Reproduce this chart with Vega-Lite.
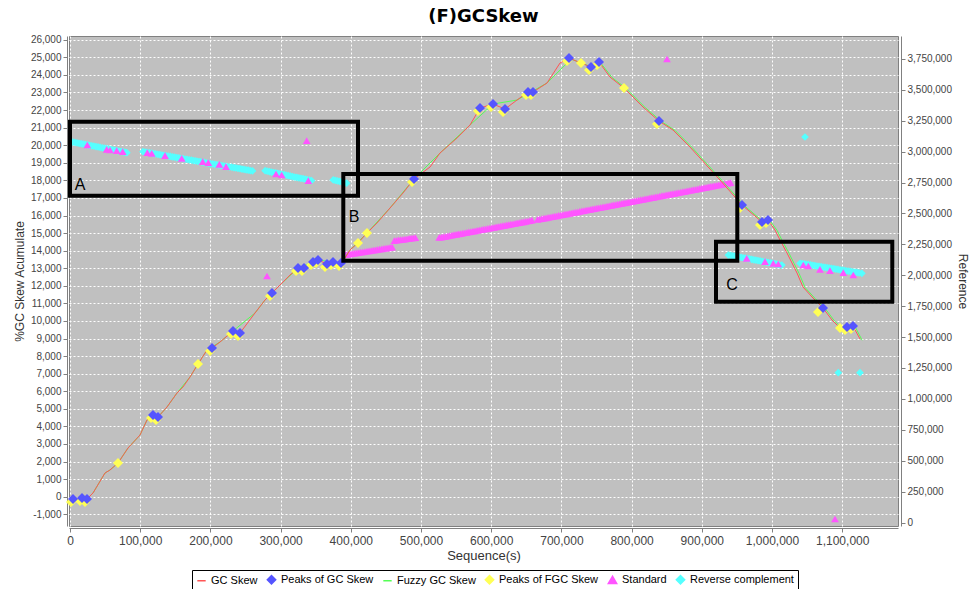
{
"$schema": "https://vega.github.io/schema/vega-lite/v6.json",
"width": 829, "height": 490,
"autosize": {"type": "none"},
"padding": {"left": 69, "top": 36, "right": 75, "bottom": 63},
"background": "white",
"title": {"text": "(F)GCSkew", "font": "DejaVu Sans", "fontSize": 18, "fontWeight": "bold", "color": "black", "offset": 9, "anchor": "middle"},
"datasets": {
"gcskew": [
{"series":"GC Skew","pos":0,"val":-60},{"series":"GC Skew","pos":4274,"val":-131},{"series":"GC Skew","pos":17094,"val":-74},{"series":"GC Skew","pos":24217,"val":-131},{"series":"GC Skew","pos":32764,"val":211},{"series":"GC Skew","pos":49858,"val":1349},{"series":"GC Skew","pos":56980,"val":1519},{"series":"GC Skew","pos":68376,"val":1917},{"series":"GC Skew","pos":82621,"val":2771},{"series":"GC Skew","pos":99715,"val":3510},{"series":"GC Skew","pos":109687,"val":4364},{"series":"GC Skew","pos":118234,"val":4648},{"series":"GC Skew","pos":125356,"val":4535},{"series":"GC Skew","pos":138177,"val":5104},{"series":"GC Skew","pos":152422,"val":5900},{"series":"GC Skew","pos":160969,"val":6242},{"series":"GC Skew","pos":170940,"val":6811},{"series":"GC Skew","pos":182336,"val":7550},{"series":"GC Skew","pos":195157,"val":8347},{"series":"GC Skew","pos":202279,"val":8461},{"series":"GC Skew","pos":213675,"val":8802},{"series":"GC Skew","pos":232194,"val":9428},{"series":"GC Skew","pos":242165,"val":9314},{"series":"GC Skew","pos":263533,"val":10452},{"series":"GC Skew","pos":277778,"val":11191},{"series":"GC Skew","pos":287749,"val":11590},{"series":"GC Skew","pos":299145,"val":12045},{"series":"GC Skew","pos":313390,"val":12614},{"series":"GC Skew","pos":324786,"val":13012},{"series":"GC Skew","pos":333333,"val":13012},{"series":"GC Skew","pos":346154,"val":13354},{"series":"GC Skew","pos":353276,"val":13468},{"series":"GC Skew","pos":366097,"val":13240},{"series":"GC Skew","pos":374644,"val":13354},{"series":"GC Skew","pos":386040,"val":13297},{"series":"GC Skew","pos":391738,"val":13581},{"series":"GC Skew","pos":398860,"val":14036},{"series":"GC Skew","pos":410256,"val":14434},{"series":"GC Skew","pos":423077,"val":15003},{"series":"GC Skew","pos":437322,"val":15572},{"series":"GC Skew","pos":455840,"val":16426},{"series":"GC Skew","pos":474359,"val":17279},{"series":"GC Skew","pos":490028,"val":18078},{"series":"GC Skew","pos":512820,"val":18758},{"series":"GC Skew","pos":527065,"val":19555},{"series":"GC Skew","pos":551282,"val":20408},{"series":"GC Skew","pos":569800,"val":21148},{"series":"GC Skew","pos":584045,"val":22115},{"series":"GC Skew","pos":602564,"val":22343},{"series":"GC Skew","pos":619658,"val":22058},{"series":"GC Skew","pos":636752,"val":22570},{"series":"GC Skew","pos":652421,"val":23026},{"series":"GC Skew","pos":659544,"val":23026},{"series":"GC Skew","pos":679487,"val":23538},{"series":"GC Skew","pos":698005,"val":24676},{"series":"GC Skew","pos":710826,"val":24960},{"series":"GC Skew","pos":727920,"val":24676},{"series":"GC Skew","pos":742165,"val":24448},{"series":"GC Skew","pos":753561,"val":24733},{"series":"GC Skew","pos":769230,"val":23879},{"series":"GC Skew","pos":789173,"val":23253},{"series":"GC Skew","pos":816239,"val":22172},{"series":"GC Skew","pos":839031,"val":21376},{"series":"GC Skew","pos":858974,"val":20864},{"series":"GC Skew","pos":883190,"val":19896},{"series":"GC Skew","pos":897435,"val":19270},{"series":"GC Skew","pos":925925,"val":18018},{"series":"GC Skew","pos":957264,"val":16598},{"series":"GC Skew","pos":985754,"val":15630},{"series":"GC Skew","pos":994301,"val":15744},{"series":"GC Skew","pos":1004273,"val":15175},{"series":"GC Skew","pos":1011395,"val":14606},{"series":"GC Skew","pos":1021367,"val":13866},{"series":"GC Skew","pos":1028489,"val":13297},{"series":"GC Skew","pos":1035612,"val":12728},{"series":"GC Skew","pos":1044159,"val":11931},{"series":"GC Skew","pos":1058404,"val":11305},{"series":"GC Skew","pos":1072649,"val":10736},{"series":"GC Skew","pos":1085469,"val":10054},{"series":"GC Skew","pos":1096865,"val":9599},{"series":"GC Skew","pos":1106837,"val":9656},{"series":"GC Skew","pos":1115384,"val":9713},{"series":"GC Skew","pos":1125355,"val":8973}
],
"fuzzy": [
{"series":"Fuzzy GC Skew","pos":0,"val":-60},{"series":"Fuzzy GC Skew","pos":4274,"val":-131},{"series":"Fuzzy GC Skew","pos":17094,"val":-74},{"series":"Fuzzy GC Skew","pos":24217,"val":-131},{"series":"Fuzzy GC Skew","pos":32764,"val":211},{"series":"Fuzzy GC Skew","pos":49858,"val":1349},{"series":"Fuzzy GC Skew","pos":56980,"val":1519},{"series":"Fuzzy GC Skew","pos":68376,"val":1917},{"series":"Fuzzy GC Skew","pos":82621,"val":2771},{"series":"Fuzzy GC Skew","pos":99715,"val":3510},{"series":"Fuzzy GC Skew","pos":109687,"val":4364},{"series":"Fuzzy GC Skew","pos":118234,"val":4648},{"series":"Fuzzy GC Skew","pos":125356,"val":4535},{"series":"Fuzzy GC Skew","pos":138177,"val":5104},{"series":"Fuzzy GC Skew","pos":152422,"val":5900},{"series":"Fuzzy GC Skew","pos":170940,"val":6811},{"series":"Fuzzy GC Skew","pos":182336,"val":7550},{"series":"Fuzzy GC Skew","pos":195157,"val":8347},{"series":"Fuzzy GC Skew","pos":213675,"val":8802},{"series":"Fuzzy GC Skew","pos":232194,"val":9428},{"series":"Fuzzy GC Skew","pos":263533,"val":10452},{"series":"Fuzzy GC Skew","pos":277778,"val":11191},{"series":"Fuzzy GC Skew","pos":299145,"val":12045},{"series":"Fuzzy GC Skew","pos":324786,"val":13012},{"series":"Fuzzy GC Skew","pos":353276,"val":13468},{"series":"Fuzzy GC Skew","pos":386040,"val":13297},{"series":"Fuzzy GC Skew","pos":398860,"val":14036},{"series":"Fuzzy GC Skew","pos":423077,"val":15003},{"series":"Fuzzy GC Skew","pos":455840,"val":16426},{"series":"Fuzzy GC Skew","pos":490028,"val":18078},{"series":"Fuzzy GC Skew","pos":527065,"val":19555},{"series":"Fuzzy GC Skew","pos":569800,"val":21148},{"series":"Fuzzy GC Skew","pos":602564,"val":22343},{"series":"Fuzzy GC Skew","pos":636752,"val":22570},{"series":"Fuzzy GC Skew","pos":679487,"val":23538},{"series":"Fuzzy GC Skew","pos":713826,"val":24900},{"series":"Fuzzy GC Skew","pos":730920,"val":24640},{"series":"Fuzzy GC Skew","pos":745165,"val":24420},{"series":"Fuzzy GC Skew","pos":756561,"val":24650},{"series":"Fuzzy GC Skew","pos":772230,"val":23850},{"series":"Fuzzy GC Skew","pos":792173,"val":23230},{"series":"Fuzzy GC Skew","pos":819239,"val":22150},{"series":"Fuzzy GC Skew","pos":842031,"val":21360},{"series":"Fuzzy GC Skew","pos":861974,"val":20840},{"series":"Fuzzy GC Skew","pos":886190,"val":19870},{"series":"Fuzzy GC Skew","pos":900435,"val":19240},{"series":"Fuzzy GC Skew","pos":928925,"val":17990},{"series":"Fuzzy GC Skew","pos":960264,"val":16570},{"series":"Fuzzy GC Skew","pos":988754,"val":15610},{"series":"Fuzzy GC Skew","pos":997301,"val":15700},{"series":"Fuzzy GC Skew","pos":1007273,"val":15150},{"series":"Fuzzy GC Skew","pos":1014395,"val":14580},{"series":"Fuzzy GC Skew","pos":1024367,"val":13840},{"series":"Fuzzy GC Skew","pos":1031489,"val":13270},{"series":"Fuzzy GC Skew","pos":1038612,"val":12700},{"series":"Fuzzy GC Skew","pos":1047159,"val":11900},{"series":"Fuzzy GC Skew","pos":1061404,"val":11280},{"series":"Fuzzy GC Skew","pos":1075649,"val":10710},{"series":"Fuzzy GC Skew","pos":1088469,"val":10030},{"series":"Fuzzy GC Skew","pos":1099865,"val":9580},{"series":"Fuzzy GC Skew","pos":1109837,"val":9620},{"series":"Fuzzy GC Skew","pos":1118384,"val":9680},{"series":"Fuzzy GC Skew","pos":1128355,"val":8900}
],
"peaks": [
{"series":"Peaks of FGC Skew","pos":68376,"val":1917},{"series":"Peaks of FGC Skew","pos":182336,"val":7550},{"series":"Peaks of FGC Skew","pos":410256,"val":14434},{"series":"Peaks of FGC Skew","pos":423077,"val":15003},{"series":"Peaks of FGC Skew","pos":727920,"val":24676},{"series":"Peaks of FGC Skew","pos":789173,"val":23253},{"series":"Peaks of FGC Skew","pos":1065526,"val":10509},{"series":"Peaks of FGC Skew","pos":1096865,"val":9599},
{"series":"Peaks of FGC Skew","pos":1425,"val":-302},{"series":"Peaks of FGC Skew","pos":14245,"val":-245},{"series":"Peaks of FGC Skew","pos":21368,"val":-302},{"series":"Peaks of FGC Skew","pos":115385,"val":4477},{"series":"Peaks of FGC Skew","pos":122507,"val":4364},{"series":"Peaks of FGC Skew","pos":199430,"val":8290},{"series":"Peaks of FGC Skew","pos":229345,"val":9257},{"series":"Peaks of FGC Skew","pos":239316,"val":9143},{"series":"Peaks of FGC Skew","pos":284900,"val":11419},{"series":"Peaks of FGC Skew","pos":321937,"val":12841},{"series":"Peaks of FGC Skew","pos":330484,"val":12841},{"series":"Peaks of FGC Skew","pos":343305,"val":13183},{"series":"Peaks of FGC Skew","pos":350427,"val":13297},{"series":"Peaks of FGC Skew","pos":363248,"val":13069},{"series":"Peaks of FGC Skew","pos":371795,"val":13183},{"series":"Peaks of FGC Skew","pos":383191,"val":13126},{"series":"Peaks of FGC Skew","pos":487179,"val":17907},{"series":"Peaks of FGC Skew","pos":581196,"val":21944},{"series":"Peaks of FGC Skew","pos":599715,"val":22172},{"series":"Peaks of FGC Skew","pos":616809,"val":21887},{"series":"Peaks of FGC Skew","pos":649572,"val":22855},{"series":"Peaks of FGC Skew","pos":656695,"val":22855},{"series":"Peaks of FGC Skew","pos":707977,"val":24789},{"series":"Peaks of FGC Skew","pos":739316,"val":24277},{"series":"Peaks of FGC Skew","pos":750712,"val":24562},{"series":"Peaks of FGC Skew","pos":836182,"val":21205},{"series":"Peaks of FGC Skew","pos":954415,"val":16427},{"series":"Peaks of FGC Skew","pos":982905,"val":15459},{"series":"Peaks of FGC Skew","pos":991452,"val":15573},{"series":"Peaks of FGC Skew","pos":1104000,"val":9485},{"series":"Peaks of FGC Skew","pos":1112535,"val":9542},
{"series":"Peaks of GC Skew","pos":4274,"val":-131},{"series":"Peaks of GC Skew","pos":17094,"val":-74},{"series":"Peaks of GC Skew","pos":24217,"val":-131},{"series":"Peaks of GC Skew","pos":118234,"val":4648},{"series":"Peaks of GC Skew","pos":125356,"val":4535},{"series":"Peaks of GC Skew","pos":202279,"val":8461},{"series":"Peaks of GC Skew","pos":232194,"val":9428},{"series":"Peaks of GC Skew","pos":242165,"val":9314},{"series":"Peaks of GC Skew","pos":287749,"val":11590},{"series":"Peaks of GC Skew","pos":324786,"val":13012},{"series":"Peaks of GC Skew","pos":333333,"val":13012},{"series":"Peaks of GC Skew","pos":346154,"val":13354},{"series":"Peaks of GC Skew","pos":353276,"val":13468},{"series":"Peaks of GC Skew","pos":366097,"val":13240},{"series":"Peaks of GC Skew","pos":374644,"val":13354},{"series":"Peaks of GC Skew","pos":386040,"val":13297},{"series":"Peaks of GC Skew","pos":490028,"val":18078},{"series":"Peaks of GC Skew","pos":584045,"val":22115},{"series":"Peaks of GC Skew","pos":602564,"val":22343},{"series":"Peaks of GC Skew","pos":619658,"val":22058},{"series":"Peaks of GC Skew","pos":652421,"val":23026},{"series":"Peaks of GC Skew","pos":659544,"val":23026},{"series":"Peaks of GC Skew","pos":710826,"val":24960},{"series":"Peaks of GC Skew","pos":742165,"val":24448},{"series":"Peaks of GC Skew","pos":753561,"val":24733},{"series":"Peaks of GC Skew","pos":839031,"val":21376},{"series":"Peaks of GC Skew","pos":957264,"val":16598},{"series":"Peaks of GC Skew","pos":985754,"val":15630},{"series":"Peaks of GC Skew","pos":994301,"val":15744},{"series":"Peaks of GC Skew","pos":1072649,"val":10736},{"series":"Peaks of GC Skew","pos":1106837,"val":9656},{"series":"Peaks of GC Skew","pos":1115384,"val":9713}
],
"ref": [
{"series":"Reverse complement","pos":4000,"val":3078000},{"series":"Reverse complement","pos":7000,"val":3074500},{"series":"Reverse complement","pos":10000,"val":3071000},{"series":"Reverse complement","pos":13000,"val":3067700},{"series":"Reverse complement","pos":16000,"val":3064500},{"series":"Reverse complement","pos":19000,"val":3061200},{"series":"Reverse complement","pos":22000,"val":3058000},{"series":"Reverse complement","pos":25000,"val":3054500},{"series":"Reverse complement","pos":28000,"val":3051000},{"series":"Reverse complement","pos":31000,"val":3047700},{"series":"Reverse complement","pos":34000,"val":3044500},{"series":"Reverse complement","pos":37000,"val":3041200},{"series":"Reverse complement","pos":40000,"val":3038000},{"series":"Reverse complement","pos":43000,"val":3034500},{"series":"Reverse complement","pos":46000,"val":3031000},{"series":"Reverse complement","pos":49000,"val":3027700},{"series":"Reverse complement","pos":52000,"val":3024500},{"series":"Reverse complement","pos":55000,"val":3021200},{"series":"Reverse complement","pos":58000,"val":3018000},{"series":"Reverse complement","pos":61000,"val":3014500},{"series":"Reverse complement","pos":64000,"val":3011000},{"series":"Reverse complement","pos":67000,"val":3007500},{"series":"Reverse complement","pos":70000,"val":3004000},{"series":"Reverse complement","pos":73000,"val":3000700},{"series":"Reverse complement","pos":76000,"val":2997500},{"series":"Reverse complement","pos":79000,"val":2994200},{"series":"Reverse complement","pos":81000,"val":2992000},
{"series":"Reverse complement","pos":104000,"val":3000000},{"series":"Reverse complement","pos":107000,"val":2997000},{"series":"Reverse complement","pos":110000,"val":2994000},{"series":"Reverse complement","pos":113000,"val":2991000},{"series":"Reverse complement","pos":116000,"val":2988000},{"series":"Reverse complement","pos":119000,"val":2985000},{"series":"Reverse complement","pos":122000,"val":2982000},{"series":"Reverse complement","pos":125000,"val":2979000},{"series":"Reverse complement","pos":128000,"val":2976000},{"series":"Reverse complement","pos":131000,"val":2973000},{"series":"Reverse complement","pos":134000,"val":2970000},{"series":"Reverse complement","pos":137000,"val":2967000},{"series":"Reverse complement","pos":140000,"val":2964000},{"series":"Reverse complement","pos":143000,"val":2961000},{"series":"Reverse complement","pos":146000,"val":2958000},{"series":"Reverse complement","pos":149000,"val":2955000},{"series":"Reverse complement","pos":152000,"val":2952000},{"series":"Reverse complement","pos":155000,"val":2949000},{"series":"Reverse complement","pos":158000,"val":2946000},{"series":"Reverse complement","pos":161000,"val":2943000},{"series":"Reverse complement","pos":164000,"val":2940000},{"series":"Reverse complement","pos":167000,"val":2937000},{"series":"Reverse complement","pos":170000,"val":2934000},{"series":"Reverse complement","pos":173000,"val":2931000},{"series":"Reverse complement","pos":176000,"val":2928000},{"series":"Reverse complement","pos":179000,"val":2925000},{"series":"Reverse complement","pos":182000,"val":2922000},{"series":"Reverse complement","pos":185000,"val":2919000},{"series":"Reverse complement","pos":188000,"val":2916000},{"series":"Reverse complement","pos":191000,"val":2913000},{"series":"Reverse complement","pos":194000,"val":2910000},{"series":"Reverse complement","pos":197000,"val":2907000},{"series":"Reverse complement","pos":200000,"val":2904000},{"series":"Reverse complement","pos":203000,"val":2901000},{"series":"Reverse complement","pos":206000,"val":2898000},{"series":"Reverse complement","pos":209000,"val":2895000},{"series":"Reverse complement","pos":212000,"val":2892000},{"series":"Reverse complement","pos":215000,"val":2889000},{"series":"Reverse complement","pos":218000,"val":2886000},{"series":"Reverse complement","pos":221000,"val":2883000},{"series":"Reverse complement","pos":224000,"val":2880000},{"series":"Reverse complement","pos":227000,"val":2877000},{"series":"Reverse complement","pos":230000,"val":2874000},{"series":"Reverse complement","pos":233000,"val":2871000},{"series":"Reverse complement","pos":236000,"val":2868000},{"series":"Reverse complement","pos":239000,"val":2865000},{"series":"Reverse complement","pos":242000,"val":2862000},{"series":"Reverse complement","pos":245000,"val":2859000},{"series":"Reverse complement","pos":248000,"val":2856000},{"series":"Reverse complement","pos":251000,"val":2853000},{"series":"Reverse complement","pos":254000,"val":2850000},{"series":"Reverse complement","pos":257000,"val":2847000},{"series":"Reverse complement","pos":260000,"val":2844000},
{"series":"Reverse complement","pos":278000,"val":2846000},{"series":"Reverse complement","pos":281000,"val":2842500},{"series":"Reverse complement","pos":284000,"val":2839000},{"series":"Reverse complement","pos":287000,"val":2835200},{"series":"Reverse complement","pos":290000,"val":2831500},{"series":"Reverse complement","pos":293000,"val":2827700},{"series":"Reverse complement","pos":296000,"val":2824000},{"series":"Reverse complement","pos":299000,"val":2820500},{"series":"Reverse complement","pos":302000,"val":2817000},{"series":"Reverse complement","pos":305000,"val":2813500},{"series":"Reverse complement","pos":308000,"val":2810000},{"series":"Reverse complement","pos":311000,"val":2806200},{"series":"Reverse complement","pos":314000,"val":2802500},{"series":"Reverse complement","pos":317000,"val":2798700},{"series":"Reverse complement","pos":320000,"val":2795000},{"series":"Reverse complement","pos":323000,"val":2791500},{"series":"Reverse complement","pos":326000,"val":2788000},{"series":"Reverse complement","pos":329000,"val":2784500},{"series":"Reverse complement","pos":332000,"val":2781000},{"series":"Reverse complement","pos":335000,"val":2777000},{"series":"Reverse complement","pos":338000,"val":2773000},{"series":"Reverse complement","pos":341000,"val":2769500},{"series":"Reverse complement","pos":344000,"val":2766000},
{"series":"Reverse complement","pos":375000,"val":2771000},{"series":"Reverse complement","pos":378000,"val":2767000},{"series":"Reverse complement","pos":381000,"val":2763000},{"series":"Reverse complement","pos":384000,"val":2759000},{"series":"Reverse complement","pos":387000,"val":2755000},{"series":"Reverse complement","pos":390000,"val":2750700},{"series":"Reverse complement","pos":394000,"val":2745000},
{"series":"Reverse complement","pos":938000,"val":2164000},{"series":"Reverse complement","pos":941000,"val":2160700},{"series":"Reverse complement","pos":944000,"val":2157500},{"series":"Reverse complement","pos":947000,"val":2154500},{"series":"Reverse complement","pos":950000,"val":2151500},{"series":"Reverse complement","pos":953000,"val":2148200},{"series":"Reverse complement","pos":956000,"val":2145000},{"series":"Reverse complement","pos":959000,"val":2141700},{"series":"Reverse complement","pos":962000,"val":2138500},{"series":"Reverse complement","pos":965000,"val":2135200},{"series":"Reverse complement","pos":968000,"val":2132000},{"series":"Reverse complement","pos":971000,"val":2128700},{"series":"Reverse complement","pos":974000,"val":2125500},{"series":"Reverse complement","pos":977000,"val":2122200},{"series":"Reverse complement","pos":980000,"val":2119000},{"series":"Reverse complement","pos":983000,"val":2115700},{"series":"Reverse complement","pos":986000,"val":2112500},{"series":"Reverse complement","pos":989000,"val":2109200},{"series":"Reverse complement","pos":992000,"val":2106000},{"series":"Reverse complement","pos":995000,"val":2103000},{"series":"Reverse complement","pos":998000,"val":2100000},{"series":"Reverse complement","pos":1001000,"val":2096700},{"series":"Reverse complement","pos":1004000,"val":2093500},{"series":"Reverse complement","pos":1007000,"val":2090200},{"series":"Reverse complement","pos":1010000,"val":2087000},{"series":"Reverse complement","pos":1014000,"val":2083000},
{"series":"Reverse complement","pos":1040000,"val":2097000},{"series":"Reverse complement","pos":1043000,"val":2094200},{"series":"Reverse complement","pos":1046000,"val":2091500},{"series":"Reverse complement","pos":1049000,"val":2088700},{"series":"Reverse complement","pos":1052000,"val":2086000},{"series":"Reverse complement","pos":1055000,"val":2083200},{"series":"Reverse complement","pos":1058000,"val":2080500},{"series":"Reverse complement","pos":1061000,"val":2077700},{"series":"Reverse complement","pos":1064000,"val":2075000},{"series":"Reverse complement","pos":1067000,"val":2072200},{"series":"Reverse complement","pos":1070000,"val":2069500},{"series":"Reverse complement","pos":1073000,"val":2066700},{"series":"Reverse complement","pos":1076000,"val":2064000},{"series":"Reverse complement","pos":1079000,"val":2061200},{"series":"Reverse complement","pos":1082000,"val":2058500},{"series":"Reverse complement","pos":1085000,"val":2055700},{"series":"Reverse complement","pos":1088000,"val":2053000},{"series":"Reverse complement","pos":1091000,"val":2050200},{"series":"Reverse complement","pos":1094000,"val":2047500},{"series":"Reverse complement","pos":1097000,"val":2044700},{"series":"Reverse complement","pos":1100000,"val":2042000},{"series":"Reverse complement","pos":1103000,"val":2039200},{"series":"Reverse complement","pos":1106000,"val":2036500},{"series":"Reverse complement","pos":1109000,"val":2033700},{"series":"Reverse complement","pos":1112000,"val":2031000},{"series":"Reverse complement","pos":1115000,"val":2028200},{"series":"Reverse complement","pos":1118000,"val":2025500},{"series":"Reverse complement","pos":1121000,"val":2022700},{"series":"Reverse complement","pos":1124000,"val":2020000},{"series":"Reverse complement","pos":1128000,"val":2016000},
{"series":"Reverse complement","pos":1046980,"val":3118695},{"series":"Reverse complement","pos":1094440,"val":1211882},{"series":"Reverse complement","pos":1125355,"val":1211882},
{"series":"Standard","pos":24644,"val":3053975},{"series":"Standard","pos":52279,"val":3019188},{"series":"Standard","pos":56980,"val":3013525},{"series":"Standard","pos":66524,"val":3007862},{"series":"Standard","pos":75071,"val":2999772},{"series":"Standard","pos":110115,"val":2991682},{"series":"Standard","pos":116383,"val":2986828},{"series":"Standard","pos":135328,"val":2967412},{"series":"Standard","pos":159116,"val":2946378},{"series":"Standard","pos":189031,"val":2918872},{"series":"Standard","pos":197008,"val":2910782},{"series":"Standard","pos":212677,"val":2897838},{"series":"Standard","pos":222222,"val":2878422},{"series":"Standard","pos":293447,"val":2819365},{"series":"Standard","pos":301567,"val":2811275},{"series":"Standard","pos":339459,"val":2765162},
{"series":"Standard","pos":337180,"val":3088762},{"series":"Standard","pos":280627,"val":1994185},{"series":"Standard","pos":850427,"val":3749715},{"series":"Standard","pos":1089742,"val":28315},
{"series":"Standard","pos":963959,"val":2137378},{"series":"Standard","pos":990028,"val":2109872},{"series":"Standard","pos":1001851,"val":2096928},{"series":"Standard","pos":1008974,"val":2091265},{"series":"Standard","pos":1044587,"val":2083175},{"series":"Standard","pos":1051709,"val":2075085},{"series":"Standard","pos":1068375,"val":2048388},{"series":"Standard","pos":1082620,"val":2037062},{"series":"Standard","pos":1101566,"val":2020882},{"series":"Standard","pos":1115811,"val":2002275},
{"series":"Standard","pos":393000,"val":2168000},{"series":"Standard","pos":396000,"val":2170700},{"series":"Standard","pos":399000,"val":2173400},{"series":"Standard","pos":402000,"val":2176200},{"series":"Standard","pos":405000,"val":2178900},{"series":"Standard","pos":408000,"val":2181600},{"series":"Standard","pos":411000,"val":2184300},{"series":"Standard","pos":414000,"val":2187000},{"series":"Standard","pos":417000,"val":2189700},{"series":"Standard","pos":420000,"val":2192500},{"series":"Standard","pos":423000,"val":2195200},{"series":"Standard","pos":426000,"val":2197900},{"series":"Standard","pos":429000,"val":2200600},{"series":"Standard","pos":432000,"val":2203300},{"series":"Standard","pos":435000,"val":2206100},{"series":"Standard","pos":438000,"val":2208800},{"series":"Standard","pos":441000,"val":2211500},{"series":"Standard","pos":444000,"val":2214200},{"series":"Standard","pos":447000,"val":2216900},{"series":"Standard","pos":450000,"val":2219600},{"series":"Standard","pos":453000,"val":2222400},{"series":"Standard","pos":456000,"val":2225100},{"series":"Standard","pos":459000,"val":2227800},
{"series":"Standard","pos":462000,"val":2281000},{"series":"Standard","pos":465000,"val":2283400},{"series":"Standard","pos":468000,"val":2285800},{"series":"Standard","pos":471000,"val":2288200},{"series":"Standard","pos":474000,"val":2290600},{"series":"Standard","pos":477000,"val":2293000},{"series":"Standard","pos":480000,"val":2295400},{"series":"Standard","pos":483000,"val":2297800},{"series":"Standard","pos":486000,"val":2300200},{"series":"Standard","pos":489000,"val":2302600},{"series":"Standard","pos":492000,"val":2305000},
{"series":"Standard","pos":526000,"val":2306000},{"series":"Standard","pos":529000,"val":2309200},{"series":"Standard","pos":532000,"val":2312300},{"series":"Standard","pos":535000,"val":2315500},{"series":"Standard","pos":538000,"val":2318700},{"series":"Standard","pos":541000,"val":2321800},{"series":"Standard","pos":544000,"val":2325000},{"series":"Standard","pos":547000,"val":2328200},{"series":"Standard","pos":550000,"val":2331400},{"series":"Standard","pos":553000,"val":2334500},{"series":"Standard","pos":556000,"val":2337700},{"series":"Standard","pos":559000,"val":2340900},{"series":"Standard","pos":562000,"val":2344000},{"series":"Standard","pos":565000,"val":2347200},{"series":"Standard","pos":568000,"val":2350400},{"series":"Standard","pos":571000,"val":2353600},{"series":"Standard","pos":574000,"val":2356700},{"series":"Standard","pos":577000,"val":2359900},{"series":"Standard","pos":580000,"val":2363100},{"series":"Standard","pos":583000,"val":2366200},{"series":"Standard","pos":586000,"val":2369400},{"series":"Standard","pos":589000,"val":2372600},{"series":"Standard","pos":592000,"val":2375800},{"series":"Standard","pos":595000,"val":2378900},{"series":"Standard","pos":598000,"val":2382100},{"series":"Standard","pos":601000,"val":2385300},{"series":"Standard","pos":604000,"val":2388400},{"series":"Standard","pos":607000,"val":2391600},{"series":"Standard","pos":610000,"val":2394800},{"series":"Standard","pos":613000,"val":2398000},{"series":"Standard","pos":616000,"val":2401100},{"series":"Standard","pos":619000,"val":2404300},{"series":"Standard","pos":622000,"val":2407500},{"series":"Standard","pos":625000,"val":2410600},{"series":"Standard","pos":628000,"val":2413800},{"series":"Standard","pos":631000,"val":2417000},{"series":"Standard","pos":634000,"val":2420200},{"series":"Standard","pos":637000,"val":2423300},{"series":"Standard","pos":640000,"val":2426500},{"series":"Standard","pos":643000,"val":2429700},{"series":"Standard","pos":646000,"val":2432800},{"series":"Standard","pos":649000,"val":2436000},{"series":"Standard","pos":652000,"val":2439200},{"series":"Standard","pos":655000,"val":2442400},{"series":"Standard","pos":658000,"val":2445500},
{"series":"Standard","pos":666000,"val":2452000},{"series":"Standard","pos":669000,"val":2455250},{"series":"Standard","pos":672000,"val":2458500},{"series":"Standard","pos":675000,"val":2461750},{"series":"Standard","pos":678000,"val":2465000},{"series":"Standard","pos":681000,"val":2468250},{"series":"Standard","pos":684000,"val":2471500},{"series":"Standard","pos":687000,"val":2474750},{"series":"Standard","pos":690000,"val":2478000},{"series":"Standard","pos":693000,"val":2481250},{"series":"Standard","pos":696000,"val":2484500},{"series":"Standard","pos":699000,"val":2487750},{"series":"Standard","pos":702000,"val":2491000},{"series":"Standard","pos":705000,"val":2494250},{"series":"Standard","pos":708000,"val":2497500},{"series":"Standard","pos":711000,"val":2500750},{"series":"Standard","pos":714000,"val":2504000},{"series":"Standard","pos":717000,"val":2507250},{"series":"Standard","pos":720000,"val":2510500},{"series":"Standard","pos":723000,"val":2513750},{"series":"Standard","pos":726000,"val":2517000},{"series":"Standard","pos":729000,"val":2520250},{"series":"Standard","pos":732000,"val":2523500},{"series":"Standard","pos":735000,"val":2526750},{"series":"Standard","pos":738000,"val":2530000},{"series":"Standard","pos":741000,"val":2533250},{"series":"Standard","pos":744000,"val":2536500},{"series":"Standard","pos":747000,"val":2539750},{"series":"Standard","pos":750000,"val":2543000},{"series":"Standard","pos":753000,"val":2546250},{"series":"Standard","pos":756000,"val":2549500},{"series":"Standard","pos":759000,"val":2552750},{"series":"Standard","pos":762000,"val":2556000},{"series":"Standard","pos":765000,"val":2559250},{"series":"Standard","pos":768000,"val":2562500},{"series":"Standard","pos":771000,"val":2565750},{"series":"Standard","pos":774000,"val":2569000},{"series":"Standard","pos":777000,"val":2572250},{"series":"Standard","pos":780000,"val":2575500},{"series":"Standard","pos":783000,"val":2578750},{"series":"Standard","pos":786000,"val":2582000},{"series":"Standard","pos":789000,"val":2585250},{"series":"Standard","pos":792000,"val":2588500},{"series":"Standard","pos":795000,"val":2591750},{"series":"Standard","pos":798000,"val":2595000},{"series":"Standard","pos":801000,"val":2598250},{"series":"Standard","pos":804000,"val":2601500},{"series":"Standard","pos":807000,"val":2604750},{"series":"Standard","pos":810000,"val":2608000},{"series":"Standard","pos":813000,"val":2611250},{"series":"Standard","pos":816000,"val":2614500},{"series":"Standard","pos":819000,"val":2617750},{"series":"Standard","pos":822000,"val":2621000},{"series":"Standard","pos":825000,"val":2624250},{"series":"Standard","pos":828000,"val":2627500},{"series":"Standard","pos":831000,"val":2630750},{"series":"Standard","pos":834000,"val":2634000},{"series":"Standard","pos":837000,"val":2637250},{"series":"Standard","pos":840000,"val":2640500},{"series":"Standard","pos":843000,"val":2643750},{"series":"Standard","pos":846000,"val":2647000},{"series":"Standard","pos":849000,"val":2650250},{"series":"Standard","pos":852000,"val":2653500},{"series":"Standard","pos":855000,"val":2656750},{"series":"Standard","pos":858000,"val":2660000},{"series":"Standard","pos":861000,"val":2663250},{"series":"Standard","pos":864000,"val":2666500},{"series":"Standard","pos":867000,"val":2669750},{"series":"Standard","pos":870000,"val":2673000},{"series":"Standard","pos":873000,"val":2676250},{"series":"Standard","pos":876000,"val":2679500},{"series":"Standard","pos":879000,"val":2682750},{"series":"Standard","pos":882000,"val":2686000},{"series":"Standard","pos":885000,"val":2689250},{"series":"Standard","pos":888000,"val":2692500},{"series":"Standard","pos":891000,"val":2695750},{"series":"Standard","pos":894000,"val":2699000},{"series":"Standard","pos":897000,"val":2702250},{"series":"Standard","pos":900000,"val":2705500},{"series":"Standard","pos":903000,"val":2708750},{"series":"Standard","pos":906000,"val":2712000},{"series":"Standard","pos":909000,"val":2715250},{"series":"Standard","pos":912000,"val":2718500},{"series":"Standard","pos":915000,"val":2721750},{"series":"Standard","pos":918000,"val":2725000},{"series":"Standard","pos":921000,"val":2728250},{"series":"Standard","pos":924000,"val":2731500},{"series":"Standard","pos":927000,"val":2734750},{"series":"Standard","pos":930000,"val":2738000},{"series":"Standard","pos":933000,"val":2741250},{"series":"Standard","pos":936000,"val":2744500},{"series":"Standard","pos":939000,"val":2747750},{"series":"Standard","pos":941000,"val":2750000}
],
"boxes": [
{"label":"A","x1":0,"x2":410256,"y1":21338,"y2":17127,"tx":14245,"ty":17724},
{"label":"B","x1":389316,"x2":950560,"y1":18362,"y2":13428,"tx":404558,"ty":15915},
{"label":"C","x1":920227,"x2":1171346,"y1":14510,"y2":11096,"tx":943019,"ty":12047}
]
},
"layer": [
{
"data": {"name": "ref"},
"mark": {"type": "point", "filled": true, "size": 60, "opacity": 1, "strokeWidth": 0},
"encoding": {
"x": {"field": "pos", "type": "quantitative", "scale": {"domain": [-1425, 1179486], "nice": false, "zero": false}, "title": "Sequence(s)",
 "axis": {"values": [0,100000,200000,300000,400000,500000,600000,700000,800000,900000,1000000,1100000], "format": ",d", "grid": true, "offset": 2, "labelFontSize": 12, "titleFontSize": 13, "titlePadding": 3, "labelPadding": 3}},
"y": {"field": "val", "type": "quantitative", "scale": {"domain": [-28315, 3935785], "nice": false, "zero": false}, "title": "Reference",
 "axis": {"orient": "right", "values": [0,250000,500000,750000,1000000,1250000,1500000,1750000,2000000,2250000,2500000,2750000,3000000,3250000,3500000,3750000], "format": ",d", "grid": false, "offset": 3, "labelFontSize": 10, "titleFontSize": 12, "titlePadding": 4}},
"color": {"field": "series", "type": "nominal", "scale": {"domain": ["GC Skew","Peaks of GC Skew","Fuzzy GC Skew","Peaks of FGC Skew","Standard","Reverse complement"], "range": ["#FF5555","#5555FF","#55FF55","#FFFF55","#FF55FF","#55FFFF"]},
 "legend": {"orient": "none", "legendX": 123, "legendY": 534, "direction": "horizontal", "title": null, "strokeColor": "#000000", "fillColor": "#FFFFFF", "padding": 4, "labelFont": "Liberation Sans", "labelFontSize": 11, "labelColor": "#000000", "symbolSize": 70, "columnPadding": 6, "labelOffset": 4,
  "encode": {"symbols": {"update": {"stroke": {"scale": "color", "field": "value"}, "strokeWidth": {"value": 1.5}, "opacity": {"value": 1}}}}}},
"shape": {"field": "series", "type": "nominal", "scale": {"domain": ["GC Skew","Peaks of GC Skew","Fuzzy GC Skew","Peaks of FGC Skew","Standard","Reverse complement"], "range": ["stroke","diamond","stroke","diamond","triangle-up","diamond"]},
 "legend": {"orient": "none", "legendX": 123, "legendY": 534, "direction": "horizontal", "title": null, "strokeColor": "#000000", "fillColor": "#FFFFFF", "padding": 4, "labelFont": "Liberation Sans", "labelFontSize": 11, "labelColor": "#000000", "symbolSize": 70, "columnPadding": 6, "labelOffset": 4,
  "encode": {"symbols": {"update": {"stroke": {"scale": "color", "field": "value"}, "strokeWidth": {"value": 1.5}, "opacity": {"value": 1}}}}}}
}
},
{
"data": {"name": "fuzzy"},
"mark": {"type": "line", "strokeWidth": 1},
"encoding": {
"x": {"field": "pos", "type": "quantitative", "scale": {"domain": [-1425, 1179486], "nice": false, "zero": false}, "title": "Sequence(s)",
 "axis": {"values": [0,100000,200000,300000,400000,500000,600000,700000,800000,900000,1000000,1100000], "format": ",d", "grid": true, "offset": 2, "labelFontSize": 12, "titleFontSize": 13, "titlePadding": 3, "labelPadding": 3}},
"y": {"field": "val", "type": "quantitative", "scale": {"domain": [-1667, 26214], "nice": false, "zero": false}, "axis": null},
"color": {"field": "series", "type": "nominal", "legend": null}
}
},
{
"data": {"name": "gcskew"},
"mark": {"type": "line", "strokeWidth": 1},
"encoding": {
"x": {"field": "pos", "type": "quantitative", "scale": {"domain": [-1425, 1179486], "nice": false, "zero": false}, "title": "Sequence(s)",
 "axis": {"values": [0,100000,200000,300000,400000,500000,600000,700000,800000,900000,1000000,1100000], "format": ",d", "grid": true, "offset": 2, "labelFontSize": 12, "titleFontSize": 13, "titlePadding": 3, "labelPadding": 3}},
"y": {"field": "val", "type": "quantitative", "scale": {"domain": [-1667, 26214], "nice": false, "zero": false}, "title": "%GC Skew Acumulate",
 "axis": {"orient": "left", "values": [-1000,0,1000,2000,3000,4000,5000,6000,7000,8000,9000,10000,11000,12000,13000,14000,15000,16000,17000,18000,19000,20000,21000,22000,23000,24000,25000,26000], "labelExpr": "replace(format(datum.value, ','), '\u2212', '-')", "grid": true, "offset": 2, "labelFontSize": 10, "titleFontSize": 12, "titlePadding": 4}},
"color": {"field": "series", "type": "nominal", "legend": null}
}
},
{
"data": {"name": "peaks"},
"mark": {"type": "point", "filled": true, "size": 100, "opacity": 1, "strokeWidth": 0},
"encoding": {
"x": {"field": "pos", "type": "quantitative", "scale": {"domain": [-1425, 1179486], "nice": false, "zero": false}, "title": "Sequence(s)",
 "axis": {"values": [0,100000,200000,300000,400000,500000,600000,700000,800000,900000,1000000,1100000], "format": ",d", "grid": true, "offset": 2, "labelFontSize": 12, "titleFontSize": 13, "titlePadding": 3, "labelPadding": 3}},
"y": {"field": "val", "type": "quantitative", "scale": {"domain": [-1667, 26214], "nice": false, "zero": false}, "axis": null},
"color": {"field": "series", "type": "nominal", "legend": null},
"shape": {"field": "series", "type": "nominal", "legend": null}
}
},
{
"data": {"name": "boxes"},
"mark": {"type": "rect", "filled": false, "stroke": "#000000", "strokeWidth": 4},
"encoding": {
"x": {"field": "x1", "type": "quantitative", "scale": {"domain": [-1425, 1179486], "nice": false, "zero": false}, "title": "Sequence(s)",
 "axis": {"values": [0,100000,200000,300000,400000,500000,600000,700000,800000,900000,1000000,1100000], "format": ",d", "grid": true, "offset": 2, "labelFontSize": 12, "titleFontSize": 13, "titlePadding": 3, "labelPadding": 3}},
"x2": {"field": "x2"},
"y": {"field": "y1", "type": "quantitative", "scale": {"domain": [-1667, 26214], "nice": false, "zero": false}, "axis": null},
"y2": {"field": "y2"}
}
},
{
"data": {"name": "boxes"},
"mark": {"type": "text", "font": "Liberation Sans", "fontSize": 16, "color": "#000000", "align": "center", "baseline": "middle"},
"encoding": {
"x": {"field": "tx", "type": "quantitative", "scale": {"domain": [-1425, 1179486], "nice": false, "zero": false}, "title": "Sequence(s)",
 "axis": {"values": [0,100000,200000,300000,400000,500000,600000,700000,800000,900000,1000000,1100000], "format": ",d", "grid": true, "offset": 2, "labelFontSize": 12, "titleFontSize": 13, "titlePadding": 3, "labelPadding": 3}},
"y": {"field": "ty", "type": "quantitative", "scale": {"domain": [-1667, 26214], "nice": false, "zero": false}, "axis": null},
"text": {"field": "label"}
}
}
],
"resolve": {"scale": {"y": "independent"}, "axis": {"y": "independent"}},
"config": {
"view": {"fill": "#C0C0C0", "stroke": "#808080", "strokeWidth": 1},
"axis": {"labelFont": "Liberation Sans", "titleFont": "Liberation Sans", "labelColor": "#444444", "titleColor": "#333333", "titleFontWeight": "normal", "domainColor": "#808080", "tickColor": "#808080", "tickSize": 4, "gridColor": "#FFFFFF", "gridDash": [2, 2], "gridWidth": 1, "gridOpacity": 1, "labelFlush": false, "labelOverlap": false}
}
}
